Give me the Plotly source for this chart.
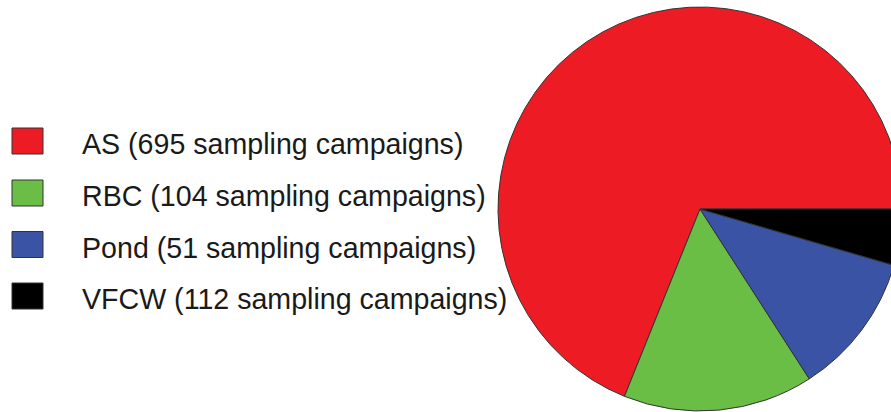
import plotly.graph_objects as go

# Data
categories = ["AS", "RBC", "Pond", "VFCW"]
campaigns = [695, 104, 51, 112]
# slice shares as drawn in the pie (percent)
slice_values = [68.9, 15.2, 11.4, 4.5]
colors = ["#ED1C24", "#6ABD45", "#3A53A4", "#000000"]

W, H = 910, 412

first_angle = 360 * slice_values[0] / sum(slice_values)
rotation = 90 - first_angle

fig = go.Figure()
fig.add_trace(go.Pie(
    labels=categories,
    values=slice_values,
    sort=False,
    direction="counterclockwise",
    rotation=rotation,
    marker=dict(colors=colors, line=dict(color="#333333", width=1)),
    textinfo="none",
    hoverinfo="label+percent",
    showlegend=False,
    domain=dict(x=[498 / W, 902 / W], y=[1 - 411 / H, 1 - 7 / H]),
))

row_y = [141, 193, 244.5, 296]
for cat, n, col, yc in zip(categories, campaigns, colors, row_y):
    fig.add_shape(type="rect", xref="paper", yref="paper",
                  x0=12 / W, x1=43 / W,
                  y0=1 - (yc - 13) / H, y1=1 - (yc + 13) / H,
                  fillcolor=col, line=dict(color="#333333", width=1))
    fig.add_annotation(xref="paper", yref="paper", x=80 / W, y=1 - (yc + 3) / H,
                       xanchor="left", yanchor="middle", showarrow=False,
                       text=f"{cat} ({n} sampling campaigns)",
                       font=dict(family="Liberation Sans, Arial", size=28.6, color="#1a1a1a"))

fig.update_layout(width=W, height=H, autosize=False,
                  margin=dict(l=0, r=0, t=0, b=0),
                  paper_bgcolor="white", plot_bgcolor="white")

page_style = "document.body.style.margin='0';document.body.style.overflow='hidden';"
fig.write_html("out.html", post_script=page_style, config={"displayModeBar": False})
